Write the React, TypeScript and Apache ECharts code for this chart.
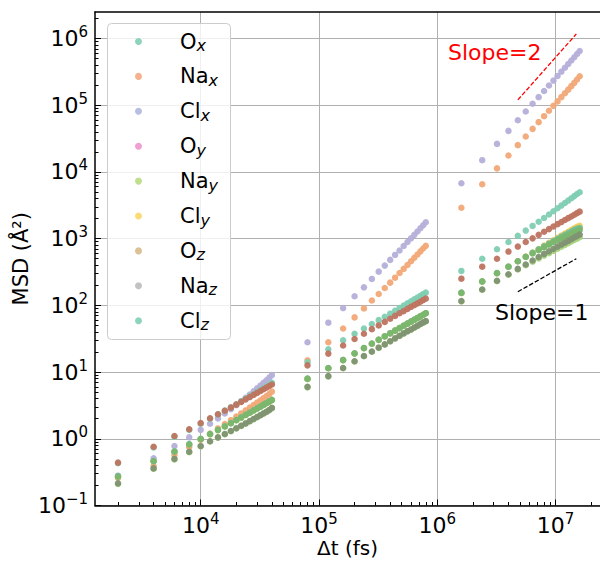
import React, { useEffect, useRef } from 'react';
import * as echarts from 'echarts';

// ---- time lags (fs), three sampling windows ----
const tEarly = [2000, 4000, 6000, 8000, 10000, 12000, 14000, 16000, 18000, 20000, 22000, 24000, 26000, 28000, 30000, 32000, 34000, 36000, 38000, 40000];
const tMid = [80000, 120000, 160000, 200000, 240000, 280000, 320000, 360000, 400000, 440000, 480000, 520000, 560000, 600000, 640000, 680000, 720000, 760000, 800000];
const tLate = [1600000, 2400000, 3200000, 4000000, 4800000, 5600000, 6400000, 7200000, 8000000, 8800000, 9600000, 10400000, 11200000, 12000000, 12800000, 13600000, 14400000, 15200000, 16000000];
const times = [...tEarly, ...tMid, ...tLate];

// ---- MSD values (Å^2), early | mid | late ----
const O_x = [
  0.43, 0.74, 1.07, 1.36, 1.68, 2.0, 2.32, 2.64, 2.96, 3.3, 3.64, 3.98, 4.32, 4.66, 5.0, 5.36, 5.72, 6.08, 6.44, 6.9,
  14, 22, 30, 37.5, 45, 52.5, 60, 67.5, 75, 83, 91, 99, 107, 115, 123, 131, 139, 147, 155,
  328, 500, 692, 890, 1100, 1320, 1550, 1790, 2040, 2300, 2570, 2850, 3130, 3420, 3720, 4030, 4340, 4660, 4950,
];
const Na_x = [
  0.26, 0.39, 0.57, 0.75, 0.97, 1.2, 1.43, 1.66, 1.9, 2.15, 2.4, 2.66, 2.93, 3.2, 3.48, 3.77, 4.06, 4.36, 4.68, 5.1,
  15, 28, 45, 66, 90, 118, 148, 182, 219, 260, 305, 352, 403, 458, 517, 578, 643, 710, 780,
  2900, 6540, 11300, 17600, 25200, 34000, 44200, 55700, 68500, 82500, 97800, 114000, 132000, 151000, 171000, 193000, 216000, 243000, 272000,
];
const Cl_x = [
  0.28, 0.51, 0.78, 1.05, 1.36, 1.68, 2.02, 2.4, 2.78, 3.2, 3.65, 4.12, 4.6, 5.13, 5.7, 6.3, 6.9, 7.55, 8.25, 9.0,
  28, 55, 91, 137, 186, 249, 320, 394, 480, 570, 665, 775, 890, 1010, 1140, 1280, 1430, 1590, 1760,
  6760, 15000, 26300, 41200, 59500, 80500, 105000, 132000, 163000, 197000, 234000, 274000, 318000, 364000, 414000, 467000, 524000, 585000, 650000,
];
const O_y = [
  0.44, 0.76, 1.10, 1.39, 1.72, 2.03, 2.33, 2.63, 2.93, 3.25, 3.57, 3.9, 4.22, 4.55, 4.87, 5.2, 5.52, 5.85, 6.17, 6.5,
  12.6, 18.9, 25, 31.3, 37.5, 44, 50, 56.5, 63, 69.5, 76, 82, 88.5, 95, 101, 107, 113, 120, 126,
  251, 380, 500, 640, 760, 890, 1010, 1140, 1270, 1390, 1520, 1650, 1770, 1900, 2030, 2150, 2280, 2410, 2540,
];
const Na_y = [
  0.21, 0.355, 0.49, 0.63, 0.77, 0.91, 1.04, 1.17, 1.3, 1.43, 1.56, 1.69, 1.83, 1.97, 2.11, 2.25, 2.39, 2.53, 2.69, 2.88,
  5.9, 8.6, 11.4, 14.4, 17.3, 20.2, 23.1, 25.9, 28.9, 31.8, 34.8, 37.8, 40.8, 43.3, 46.2, 49.2, 52.2, 55.2, 57.7,
  114, 171, 230, 288, 345, 400, 452, 505, 555, 605, 655, 705, 755, 805, 855, 905, 955, 1000, 1050,
];
const Cl_y = [
  0.27, 0.46, 0.64, 0.82, 0.99, 1.17, 1.35, 1.53, 1.71, 1.9, 2.08, 2.27, 2.46, 2.65, 2.84, 3.03, 3.22, 3.42, 3.61, 3.8,
  7.9, 11.4, 15.1, 19, 22.8, 26.6, 30.4, 34.2, 38, 41.8, 45.6, 49.4, 53.2, 57, 60.8, 64.6, 68.4, 72.2, 76,
  152, 226, 302, 378, 458, 540, 620, 700, 785, 865, 945, 1030, 1110, 1190, 1270, 1350, 1430, 1500, 1560,
];
const O_z = [
  0.27, 0.46, 0.64, 0.82, 0.99, 1.17, 1.35, 1.53, 1.71, 1.9, 2.08, 2.27, 2.46, 2.65, 2.84, 3.03, 3.22, 3.42, 3.61, 3.8,
  7.9, 11.4, 15.1, 19, 22.8, 26.6, 30.4, 34.2, 38, 41.8, 45.6, 49.4, 53.2, 57, 60.8, 64.6, 68.4, 72.2, 76,
  155, 229, 306, 380, 458, 530, 600, 670, 740, 810, 880, 950, 1010, 1070, 1130, 1190, 1250, 1300, 1350,
];
const Na_z = [
  0.215, 0.36, 0.50, 0.64, 0.78, 0.92, 1.05, 1.18, 1.31, 1.44, 1.57, 1.7, 1.84, 1.98, 2.12, 2.26, 2.4, 2.54, 2.7, 2.9,
  6.0, 8.7, 11.5, 14.5, 17.4, 20.3, 23.2, 26, 29, 32, 35, 38, 41, 43.5, 46.5, 49.5, 52.5, 55.5, 58,
  116, 173, 234, 292, 352, 410, 470, 530, 590, 645, 700, 760, 815, 870, 925, 980, 1040, 1090, 1150,
];
const Cl_z = [
  0.275, 0.465, 0.65, 0.83, 1.0, 1.18, 1.36, 1.54, 1.72, 1.91, 2.1, 2.29, 2.48, 2.67, 2.86, 3.05, 3.25, 3.44, 3.64, 3.83,
  8.0, 11.5, 15.2, 19.1, 23, 26.8, 30.6, 34.4, 38.2, 42, 45.8, 49.6, 53.4, 57.2, 61, 64.8, 68.6, 72.4, 76.3,
  154, 228, 304, 379, 458, 536, 612, 690, 765, 840, 920, 995, 1070, 1140, 1210, 1280, 1350, 1400, 1440,
];

// ---- reference slope guides ----
const slope2X = [4800000, 15000000];
const slope2Y = [120000, 1170000];
const slope1X = [4800000, 15000000];
const slope1Y = [160, 500];

// ---- axes ----
const xTickExps = [4, 5, 6, 7];
const yTickExps = [-1, 0, 1, 2, 3, 4, 5, 6];

const legendOrder = ['O_x', 'Na_x', 'Cl_x', 'O_y', 'Na_y', 'Cl_y', 'O_z', 'Na_z', 'Cl_z'];
const legendColors: Record<string, string> = {
  O_x: '#8dd3bd', Na_x: '#f6b28e', Cl_x: '#b8bedf', O_y: '#ef9fd2', Na_y: '#c0e08f',
  Cl_y: '#f9dc78', O_z: '#dcc096', Na_z: '#c2c2c2', Cl_z: '#8dd3bd',
};
const pointColors: Record<string, string> = {
  O_x: '#80cdb2', Na_x: '#f1a877', Cl_x: '#b4afd9', O_y: '#be735f', Na_y: '#a8d580',
  Cl_y: '#efcc5c', O_z: '#7bb66b', Na_z: '#7f9272', Cl_z: '#6fbf98',
};
// drawing order (bottom -> top)
const drawOrder = ['Cl_x', 'Na_x', 'O_x', 'O_y', 'Na_y', 'Cl_y', 'Cl_z', 'O_z', 'Na_z'];
const seriesValues: Record<string, number[]> = { O_x, Na_x, Cl_x, O_y, Na_y, Cl_y, O_z, Na_z, Cl_z };

const FONT = '"DejaVu Sans", sans-serif';
const xMin = 3.1065;
const xMax = 7.376;
const yMin = -1;
const yMax = 6.397;

function minorTicks(lo: number, hi: number): number[] {
  const out: number[] = [];
  for (let e = Math.floor(lo); e <= Math.ceil(hi); e++) {
    for (let k = 2; k <= 9; k++) {
      const v = e + Math.log10(k);
      if (v > lo && v < hi) out.push(v);
    }
  }
  return out;
}

const expLabel = (v: number) => {
  const e = Math.round(v);
  return `{b|10}{sup|${e < 0 ? '\u2212' + Math.abs(e) : e}}`;
};
const labelRich = {
  b: { fontSize: 22, fontFamily: FONT, color: '#000', lineHeight: 28 },
  sup: { fontSize: 15, fontFamily: FONT, color: '#000', lineHeight: 15, verticalAlign: 'top' },
};

export default function App() {
  const ref = useRef<HTMLDivElement>(null);
  useEffect(() => {
    if (!ref.current) return;
    const chart = echarts.init(ref.current, null, { renderer: 'svg' });
    const axisLineStyle = { color: '#000', width: 1.5 };
    const series: any[] = drawOrder.map((name) => ({
      name,
      type: 'scatter',
      xAxisIndex: 0,
      yAxisIndex: 0,
      symbol: 'circle',
      symbolSize: 6.5,
      itemStyle: { color: pointColors[name], opacity: 0.95 },
      emphasis: { disabled: true },
      data: times.map((t, i) => [Math.log10(t), Math.log10(seriesValues[name][i])]),
    }));
    series.push({
      type: 'line', name: 'slope2', xAxisIndex: 0, yAxisIndex: 0, symbol: 'none', silent: true,
      lineStyle: { color: '#ff0000', width: 1.3, type: [4.5, 2] },
      data: slope2X.map((x, i) => [Math.log10(x), Math.log10(slope2Y[i])]),
    });
    series.push({
      type: 'line', name: 'slope1', xAxisIndex: 0, yAxisIndex: 0, symbol: 'none', silent: true,
      lineStyle: { color: '#000', width: 1.3, type: [4.5, 2] },
      data: slope1X.map((x, i) => [Math.log10(x), Math.log10(slope1Y[i])]),
    });

    chart.setOption({
      animation: false,
      backgroundColor: '#fff',
      grid: { left: 95, right: 0, top: 12, bottom: 55.5, containLabel: false, outerBoundsMode: 'none' },
      xAxis: [
        {
          type: 'value', min: xMin, max: xMax, position: 'bottom',
          axisLine: { show: true, onZero: false, lineStyle: axisLineStyle },
          axisTick: { show: true, inside: true, length: 6, customValues: xTickExps, lineStyle: { color: '#000', width: 1 } },
          axisLabel: { show: true, customValues: xTickExps, formatter: expLabel, rich: labelRich, margin: 6 },
          splitLine: { show: true, lineStyle: { color: '#b0b0b0', width: 1 } },
          name: 'Δt (fs)', nameLocation: 'middle', nameGap: 32, nameMoveOverlap: false,
          nameTextStyle: { fontSize: 20, fontFamily: FONT, color: '#000', lineHeight: 20 },
        },
        {
          type: 'value', min: xMin, max: xMax, position: 'bottom',
          axisLine: { show: false, onZero: false },
          axisTick: { show: true, inside: true, length: 3.5, customValues: minorTicks(xMin, xMax), lineStyle: { color: '#000', width: 1 } },
          axisLabel: { show: false },
          splitLine: { show: false },
        },
        {
          type: 'value', min: xMin, max: xMax, position: 'top',
          axisLine: { show: true, onZero: false, lineStyle: axisLineStyle },
          axisTick: { show: false }, axisLabel: { show: false }, splitLine: { show: false },
        },
      ],
      yAxis: [
        {
          type: 'value', min: yMin, max: yMax, position: 'left',
          axisLine: { show: true, onZero: false, lineStyle: axisLineStyle },
          axisTick: { show: true, inside: true, length: 6, customValues: yTickExps, lineStyle: { color: '#000', width: 1 } },
          axisLabel: { show: true, customValues: yTickExps, formatter: expLabel, rich: labelRich, margin: 7 },
          splitLine: { show: true, lineStyle: { color: '#b0b0b0', width: 1 } },
          name: 'MSD (Å²)', nameLocation: 'middle', nameGap: 64, nameMoveOverlap: false,
          nameTextStyle: { fontSize: 21, fontFamily: FONT, color: '#000' },
        },
        {
          type: 'value', min: yMin, max: yMax, position: 'left',
          axisLine: { show: false, onZero: false },
          axisTick: { show: true, inside: true, length: 3.5, customValues: minorTicks(yMin, yMax), lineStyle: { color: '#000', width: 1 } },
          axisLabel: { show: false },
          splitLine: { show: false },
        },
      ],
      legend: {
        orient: 'vertical',
        left: 107,
        top: 23,
        padding: [8, 12, 8, 28],
        itemWidth: 7,
        itemHeight: 7,
        itemGap: 12.4,
        selectedMode: false,
        backgroundColor: 'transparent',
        borderWidth: 0,
        z: 10,
        data: legendOrder.map((n) => ({ name: n, icon: 'circle', itemStyle: { color: legendColors[n], opacity: 1 } })),
        formatter: (name: string) => {
          const [a, b] = name.split('_');
          return `{b|${a}}{s|${b}}`;
        },
        textStyle: {
          rich: {
            b: { fontSize: 21, fontFamily: FONT, color: '#000', lineHeight: 24, padding: [0, 0, 0, 33] },
            s: { fontSize: 16, fontFamily: FONT, fontStyle: 'italic', color: '#000', lineHeight: 16, verticalAlign: 'bottom' },
          },
        },
      },
      graphic: [
        {
          type: 'rect', left: 107, top: 23, z: 8,
          shape: { x: 0, y: 0, width: 123, height: 316, r: 4 },
          style: { fill: 'rgba(255,255,255,0.8)', stroke: '#cccccc', lineWidth: 1 },
        },
        { type: 'text', x: 448, y: 52.4, style: { text: 'Slope=2', fill: '#ff0000', fontSize: 22, fontFamily: FONT, verticalAlign: 'middle' }, z: 20 },
        { type: 'text', x: 495, y: 312.4, style: { text: 'Slope=1', fill: '#000', fontSize: 22, fontFamily: FONT, verticalAlign: 'middle' }, z: 20 },
      ],
      series,
    });
    return () => chart.dispose();
  }, []);
  return <div ref={ref} style={{ width: 600, height: 561, position: 'absolute', left: 0, top: 0 }} />;
}
